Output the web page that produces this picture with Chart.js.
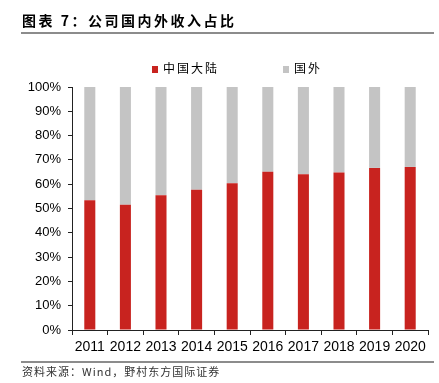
<!DOCTYPE html>
<html><head><meta charset="utf-8">
<script src="https://cdn.jsdelivr.net/npm/chart.js@4.4.0/dist/chart.umd.min.js"></script>
<style>
body{margin:0;background:#fff;}
#wrap{position:relative;width:439px;height:383px;overflow:hidden;background:#fff;}
canvas{position:absolute;left:0;top:0;}
#title{position:absolute;left:22px;top:13px;font:bold 14px "Noto Sans CJK SC",sans-serif;line-height:14px;letter-spacing:2.5px;color:#000;white-space:nowrap;}
.rule{position:absolute;left:21px;width:413px;height:2px;background:#8c8c8c;}
#legend{position:absolute;top:62px;left:152px;font:12px "Noto Sans CJK SC",sans-serif;line-height:12px;letter-spacing:2px;color:#000;white-space:nowrap;}
#legend span.item{position:absolute;top:0;white-space:nowrap;}
#legend i{display:inline-block;width:6px;height:7px;margin-right:5px;vertical-align:0px;}
#src{position:absolute;left:22px;top:366px;font:11px "Noto Sans CJK SC",sans-serif;line-height:11px;letter-spacing:1px;color:#333;white-space:nowrap;}
</style></head>
<body>
<div id="wrap">
<canvas id="c" width="439" height="383"></canvas>
<div id="title">图表 7：公司国内外收入占比</div>
<div class="rule" style="top:32px"></div>
<div id="legend"></div>
<div class="rule" style="top:361px"></div>
<div id="src">资料来源：Wind，野村东方国际证券</div>
</div>
<script>
const categories = ['2011','2012','2013','2014','2015','2016','2017','2018','2019','2020'];
const seriesNames = ['中国大陆','国外'];
const mainland = [53.4, 51.5, 55.5, 57.7, 60.4, 65.1, 64.1, 64.8, 66.7, 67.1];
const overseas = [46.6, 48.5, 44.5, 42.3, 39.6, 34.9, 35.9, 35.2, 33.3, 32.9];
const yTicks = [0,10,20,30,40,50,60,70,80,90,100];
const colors = ['#C8231F', '#C4C4C4'];

Chart.defaults.font.family = '"Liberation Sans", Arial, sans-serif';
Chart.defaults.color = '#000';

const chart = new Chart(document.getElementById('c'), {
  type: 'bar',
  data: {
    labels: categories,
    datasets: [
      {label: seriesNames[0], data: mainland, backgroundColor: colors[0], borderWidth: 0},
      {label: seriesNames[1], data: overseas, backgroundColor: colors[1], borderWidth: 0}
    ]
  },
  options: {
    responsive: false,
    animation: false,
    devicePixelRatio: 1,
    layout: {padding: {top: 87, left: 0, right: 11, bottom: 23}},
    plugins: {legend: {display: false}, tooltip: {enabled: false}},
    datasets: {bar: {barPercentage: 0.31, categoryPercentage: 1}},
    scales: {
      x: {
        stacked: true,
        grid: {display: true, drawOnChartArea: false, drawTicks: true, tickLength: 5, tickColor: '#222', offset: true},
        border: {display: true, color: '#222', width: 1},
        ticks: {font: {size: 14}, padding: 4, maxRotation: 0, autoSkip: false, color: '#000'},
        afterFit: s => { s.height = 30; }
      },
      y: {
        stacked: true,
        min: 0, max: 100,
        afterBuildTicks: s => { s.ticks = yTicks.map(v => ({value: v})); },
        grid: {display: true, drawOnChartArea: false, drawTicks: true, tickLength: 4, tickColor: '#222'},
        border: {display: true, color: '#222', width: 1},
        ticks: {font: {size: 13}, padding: 7, color: '#000', callback: v => v + '%'},
        afterFit: s => { s.width = 72; }
      }
    }
  }
});

// legend built from the chart's datasets
const lg = document.getElementById('legend');
const offsets = [0, 131];
chart.data.datasets.forEach((ds, i) => {
  const it = document.createElement('span');
  it.className = 'item';
  it.style.left = offsets[i] + 'px';
  it.innerHTML = '<i style="background:' + ds.backgroundColor + '"></i>' + ds.label;
  lg.appendChild(it);
});
</script>
</body></html>
